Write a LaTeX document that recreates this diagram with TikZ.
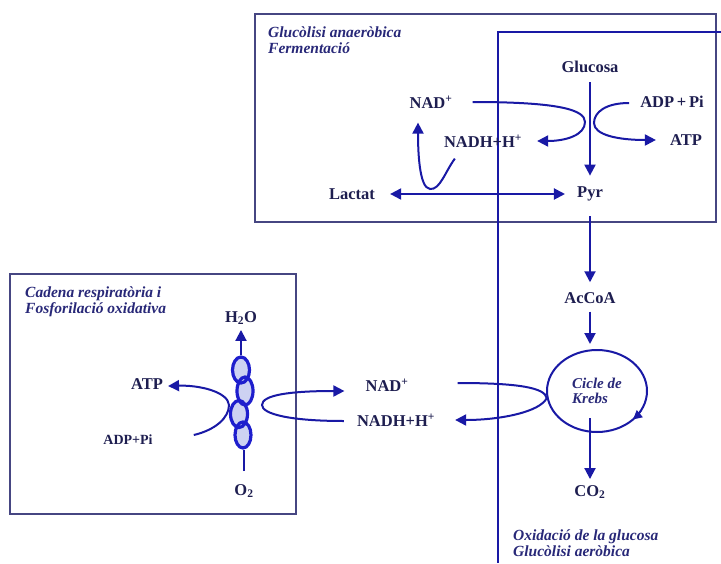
\documentclass[tikz,border=0pt]{standalone}
\usepackage{fontspec}
\setmainfont{Liberation Serif}
\usetikzlibrary{arrows.meta,shapes.geometric}
\definecolor{lineblue}{RGB}{25,25,165}
\definecolor{ovalblue}{RGB}{30,30,205}
\definecolor{ovalfill}{RGB}{205,210,242}
\definecolor{boxcol}{RGB}{70,70,130}
\definecolor{txt}{RGB}{30,30,80}
\definecolor{ttlcol}{RGB}{40,40,120}
\tikzset{
  lab/.style={font=\fontsize{16.5}{18}\selectfont\bfseries, text=txt, inner sep=1pt},
  smalllab/.style={font=\fontsize{14}{15}\selectfont\bfseries, text=txt, inner sep=1pt},
  ttl/.style={font=\fontsize{15.5}{16}\selectfont\bfseries\itshape, text=ttlcol, align=left, anchor=west, inner sep=0pt},
  arr/.style={draw=lineblue, line width=2pt, -{Triangle[length=11pt,width=11pt]}},
  arrtwo/.style={draw=lineblue, line width=2pt, {Triangle[length=11pt,width=11pt]}-{Triangle[length=11pt,width=11pt]}},
  plain/.style={draw=lineblue, line width=2pt},
  boxline/.style={draw=boxcol, line width=1.6pt},
  rbox/.style={draw=lineblue, line width=1.6pt},
  oval/.style={draw=ovalblue, line width=3.2pt, ellipse, inner sep=0pt}
}
\begin{document}
\begin{tikzpicture}[x=1pt,y=-1pt]
\useasboundingbox (0,0) rectangle (721,563);
% boxes
\draw[boxline] (255,14) rectangle (716,222);
\draw[boxline] (10,274) rectangle (296,514);
\draw[rbox] (721,32) -- (498,32) -- (498,563);

% titles
\node[ttl] (t1) at (268,40.5) {Glucòlisi anaeròbica\\Fermentació};
\node[ttl] (t2) at (25,301.5) {Cadena respiratòria i\\Fosforilació oxidativa};
\node[ttl] (t3) at (513,543.5) {Oxidació de la glucosa\\Glucòlisi aeròbica};

% labels
\node[lab] (gluc) at (590,67) {Glucosa};
\node[lab] (nadA) at (431,102) {NAD\textsuperscript{+}};
\node[lab] (adpA) at (672,102) {ADP\,+\,Pi};
\node[lab] (nadhA) at (483,141) {NADH+H\textsuperscript{+}};
\node[lab] (atpA) at (686,140) {ATP};
\node[lab] (lact) at (352,194) {Lactat};
\node[lab] (pyr) at (590,194) {Pyr};
\node[lab] (acoa) at (590,298) {AcCoA};
\node[lab] (co2) at (590,492) {CO\textsubscript{2}};
\node[lab] (nadB) at (387,385) {NAD\textsuperscript{+}};
\node[lab] (nadhB) at (396,420) {NADH+H\textsuperscript{+}};
\node[lab] (h2o) at (241,318) {H\textsubscript{2}O};
\node[lab] (atpB) at (147,384) {ATP};
\node[smalllab] (adpB) at (128,440) {ADP+Pi};
\node[lab] (o2) at (244,491) {O\textsubscript{2}};

% Krebs
\node[draw=lineblue, line width=2pt, ellipse, minimum width=100pt, minimum height=82pt, inner sep=0pt,
  font=\fontsize{15}{15}\selectfont\bfseries\itshape, text=ttlcol, align=left] (krebs) at (597,391) {Cicle de\\Krebs};
\coordinate (kin) at (590,418);

% vertical arrows
\draw[arr, shorten <=8pt, shorten >=10pt] (gluc.south) -- (gluc.south |- pyr.north);
\draw[arr, shorten <=14pt, shorten >=9pt] (pyr.south) -- (pyr.south |- acoa.north);
\draw[arr, shorten <=7pt, shorten >=5pt] (acoa.south) -- (acoa.south |- krebs.north);
\draw[arr, shorten >=5pt] (kin) -- (kin |- co2.north);
\draw[arrtwo, shorten <=14pt, shorten >=11pt] (lact.east) -- (lact.east -| pyr.west);

% top curves
\draw[arr] ([shift={(19,0)}]nadA.east) .. controls (560,102) and (585,110) .. (585,122)
  .. controls (585,135) and (566,141) .. ([shift={(14,0)}]nadhA.east);
\draw[arr] ([shift={(-10,1)}]adpA.west) .. controls (606,103) and (594,112) .. (594,123)
  .. controls (594,135) and (618,140) .. ([shift={(-13,0)}]atpA.west);
\draw[arr] ([shift={(12,10)}]nadhA.south west) .. controls (445,172) and (440,190) .. (430,189)
  .. controls (419,188) and (418,150) .. ([shift={(-13,13)}]nadA.south);

% middle curves
\draw[arr] ([shift={(48,-2)}]nadB.east) .. controls (520,383) and (545,388) .. (krebs.188)
  .. controls (540,412) and (500,420) .. ([shift={(19,0)}]nadhB.east);
\draw[arr] ([shift={(-12,1)}]nadhB.west) .. controls (290,421) and (262,414) .. (262,405)
  .. controls (262,395) and (290,391) .. ([shift={(-20,6)}]nadB.west);

% Krebs rotation
\draw[draw=lineblue, line width=1.6pt, -{Triangle[length=9pt,width=9pt]}] (krebs.center) ++(28:50 and 41) arc[start angle=28, end angle=44, x radius=50, y radius=41];

% left box curve
\draw[arr] ([shift={(40,-5)}]adpB.east) .. controls (215,430) and (229,418) .. (229,405)
  .. controls (228,392) and (200,385) .. ([shift={(4,2)}]atpB.east);

% oval chain: light fill first, then outlines
\fill[ovalfill] (241,370) ellipse [x radius=8.5, y radius=13];
\fill[ovalfill] (245,391) ellipse [x radius=8, y radius=14];
\fill[ovalfill] (239,414) ellipse [x radius=8.5, y radius=13.5];
\fill[ovalfill] (243,435) ellipse [x radius=8, y radius=13];
\node[oval, minimum width=17pt, minimum height=26pt] (c1) at (241,370) {};
\node[oval, minimum width=16pt, minimum height=28pt] (c2) at (245,391) {};
\node[oval, minimum width=17pt, minimum height=27pt] (c3) at (239,414) {};
\node[oval, minimum width=16pt, minimum height=26pt] (c4) at (243,435) {};
\draw[arr, shorten >=4pt] (c1.north) -- (c1.north |- h2o.south);
\draw[plain, shorten <=12pt] (o2.north) -- (o2.north |- c4.south);
\end{tikzpicture}
\end{document}
